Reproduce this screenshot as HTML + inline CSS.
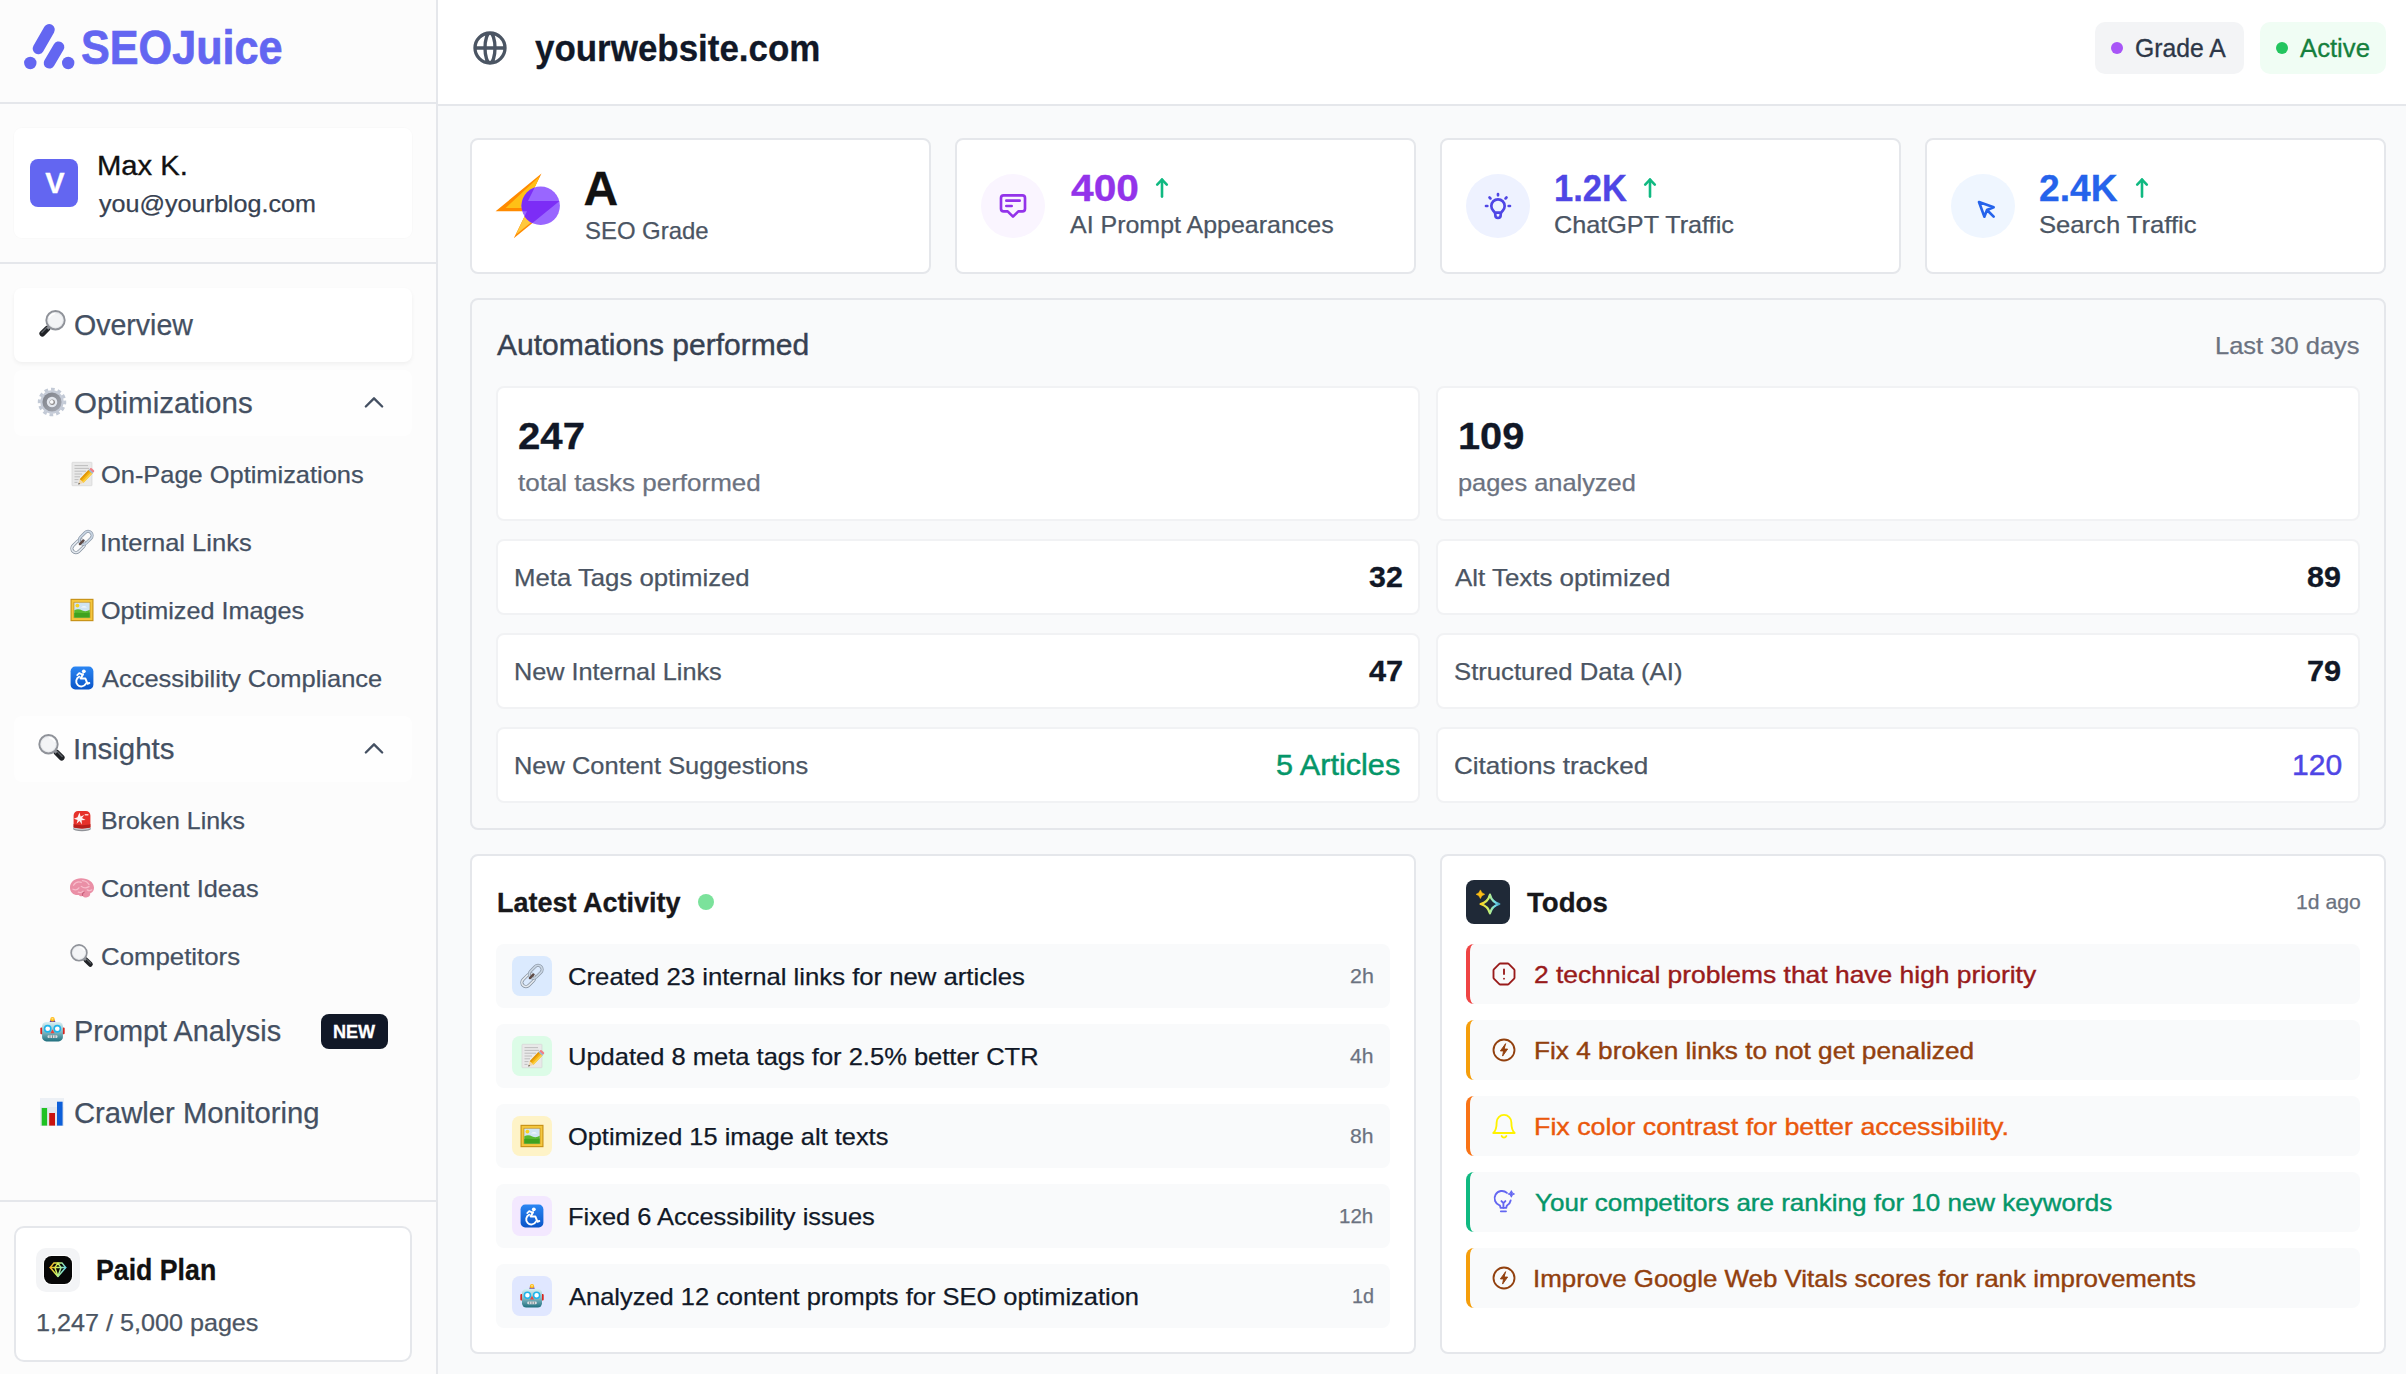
<!DOCTYPE html>
<html lang="en"><head><meta charset="utf-8"><title>SEOJuice Dashboard</title>
<style>
html,body{margin:0;padding:0}
body{width:2406px;height:1374px;overflow:hidden;position:relative;background:#f9fafb;font-family:"Liberation Sans",sans-serif}
a{text-decoration:none;color:inherit;display:block}
.t{position:absolute;white-space:nowrap;line-height:1;display:block;transform-origin:0 0}
svg{display:block;overflow:visible}
</style></head><body>
<aside class="sidebar" style="position:absolute;left:0px;top:0px;width:436px;height:1374px;background:#fcfcfc;border-right:2px solid #e5e7eb"><div class="brand" style="position:absolute;left:0px;top:0px;width:436px;height:102px;border-bottom:2px solid #e5e7eb"><svg style="position:absolute;left:20px;top:20px" width="60" height="54" viewBox="20 20 60 54" ><g stroke="#6366f1" stroke-width="11.2" stroke-linecap="round"><line x1="49.2" y1="29.6" x2="38.3" y2="48.6"/><line x1="58.7" y1="47" x2="49.3" y2="63"/></g><circle cx="30.3" cy="63" r="6.2" fill="#6366f1"/><circle cx="68.2" cy="63" r="6.2" fill="#6366f1"/></svg><span class="t logo" style="left:80.6px;top:24px;font-size:48px;color:#6366f1;transform:scaleX(0.8992);font-weight:700;-webkit-text-stroke:0.7px #6366f1;">SEOJuice</span></div><div class="account" style="position:absolute;left:0px;top:104px;width:436px;height:158px;border-bottom:2px solid #e5e7eb"><div class="user-card" style="position:absolute;left:14px;top:24px;width:398px;height:110px;background:#fff;border-radius:8px;box-shadow:0 0 0 1px rgba(0,0,0,.012)"><div class="avatar" style="position:absolute;left:16px;top:31px;width:48px;height:48px;background:#6366f1;border-radius:8px"><span class="t " style="left:15.3px;top:10px;font-size:29px;color:#fff;font-weight:700;-webkit-text-stroke:0.3px #fff;">V</span></div><span class="t " style="left:83.2px;top:24px;font-size:28px;color:#111111;transform:scaleX(1.0438);-webkit-text-stroke:0.35px #111111;">Max K.</span><span class="t " style="left:84.7px;top:64px;font-size:24px;color:#374151;transform:scaleX(1.0469);-webkit-text-stroke:0.25px #374151;">you@yourblog.com</span></div></div><nav class="nav" style="position:absolute;left:0px;top:264px;width:436px;height:936px;"><a class="nav-item active" style="position:absolute;left:14px;top:24px;width:398px;height:74px;background:#fff;border-radius:8px;box-shadow:0 2px 4px rgba(0,0,0,.05)"><svg style="position:absolute;left:24px;top:22px" width="28" height="28" viewBox="0 0 24 24" role="img" aria-label="🔎"><line x1="3.700" y1="20.300" x2="8.100" y2="15.900" stroke="#202226" stroke-width="5" stroke-linecap="round"/><line x1="3.300" y1="19.200" x2="7.100" y2="15.400" stroke="#5c6066" stroke-width="1.200" stroke-linecap="round"/><line x1="8" y1="16" x2="10.200" y2="13.800" stroke="#8a8d93" stroke-width="2.600"/><circle cx="15" cy="8.800" r="7.900" fill="#e6e8eb" stroke="#8f9299" stroke-width="1.600"/><circle cx="15" cy="8.800" r="6.100" fill="#f3f4f6"/><path d="M9.600 6.500a6 6 0 0 1 4.600-3.500" fill="none" stroke="#fff" stroke-width="1.200" stroke-linecap="round"/></svg><span class="t " style="left:59.5px;top:23px;font-size:29px;color:#445062;transform:scaleX(0.9842);-webkit-text-stroke:0.25px #445062;">Overview</span></a><div class="nav-group" style="position:absolute;left:14px;top:106px;width:398px;height:342px;"><div class="nav-item" style="position:absolute;left:0px;top:0px;width:398px;height:66px;background:#fefefe;border-radius:8px"><svg style="position:absolute;left:24px;top:18px" width="28" height="28" viewBox="0 0 24 24" role="img" aria-label="⚙️"><defs><linearGradient id="gg" x1="0" y1="0" x2="1" y2="1"><stop offset="0" stop-color="#7d8088"/><stop offset="1" stop-color="#a6aab3"/></linearGradient></defs><circle cx="12" cy="12" r="10.900" fill="none" stroke="#c3cad6" stroke-width="2.600" stroke-dasharray="3.100 2.607" transform="rotate(-6 12 12)"/><circle cx="12" cy="12" r="10" fill="#c6ccd8"/><circle cx="12" cy="12" r="8.200" fill="url(#gg)"/><circle cx="12" cy="12" r="4.500" fill="#e3e7ee"/><circle cx="12.200" cy="12.200" r="2.300" fill="#8d8a8a"/><circle cx="11.800" cy="11.900" r="1.600" fill="#fafbfc"/></svg><span class="t " style="left:59.5px;top:19px;font-size:29px;color:#445062;transform:scaleX(1.0168);-webkit-text-stroke:0.25px #445062;">Optimizations</span><svg style="position:absolute;left:346px;top:19px" width="28" height="28" viewBox="0 0 24 24" ><g fill="none" color="#445062" stroke="#445062" stroke-width="2" stroke-linecap="round" stroke-linejoin="round"><path d="M5 15l7-7 7 7"/></g></svg></div><ul class="sub-nav" style="position:absolute;left:0px;top:66px;width:398px;height:276px;margin:0;padding:0;list-style:none"><li class="sub-item" style="position:absolute;left:0px;top:4.5px;width:398px;height:68px;"><svg style="position:absolute;left:56px;top:21.5px" width="24" height="24" viewBox="0 0 24 24" role="img" aria-label="📝"><rect x="2" y="0.3" width="20" height="23.4" rx="0.6" fill="#e9e9e9" stroke="#d6d6d6" stroke-width="0.7"/><g stroke="#b3b3b3" stroke-width="0.8"><line x1="4.5" y1="3.6" x2="18" y2="3.6"/><line x1="4.5" y1="6.4" x2="19" y2="6.4"/><line x1="4.5" y1="9.2" x2="16" y2="9.2"/><line x1="4.5" y1="12" x2="12" y2="12"/><line x1="4.5" y1="14.8" x2="10" y2="14.8"/><line x1="4.5" y1="17.6" x2="8.5" y2="17.6"/><line x1="4.5" y1="20.4" x2="7.500" y2="20.4"/></g><g transform="translate(15.500 15) rotate(43.500)"><rect x="-2.600" y="-7.400" width="5.200" height="13" fill="#f6b512"/><rect x="-2.600" y="-7.400" width="1.700" height="13" fill="#e0960a"/><rect x="0.900" y="-7.400" width="1.700" height="13" fill="#fbd04a"/><rect x="-2.600" y="-10.600" width="5.200" height="2.600" rx="1.100" fill="#f08088"/><rect x="-2.600" y="-8.400" width="5.200" height="1.400" fill="#9db7d3"/><path d="M-2.600 5.600h5.200l-2.600 4.800z" fill="#f1d6ab"/><path d="M-.9 8.800h1.800l-.9 1.700z" fill="#3a3a3a"/></g></svg><span class="t " style="left:86.7px;top:22.5px;font-size:24px;color:#445062;transform:scaleX(1.0586);-webkit-text-stroke:0.25px #445062;">On-Page Optimizations</span></li><li class="sub-item" style="position:absolute;left:0px;top:72.5px;width:398px;height:68px;"><svg style="position:absolute;left:56px;top:21.5px" width="24" height="24" viewBox="0 0 24 24" role="img" aria-label="🔗"><g fill="none" stroke-linecap="round"><rect x="0.900" y="12.100" width="14.800" height="8.200" rx="4.100" transform="rotate(-45 8.300 16.200)" stroke="#7f8b99" stroke-width="3"/><rect x="0.900" y="12.100" width="14.800" height="8.200" rx="4.100" transform="rotate(-45 8.300 16.200)" stroke="#e4e9ef" stroke-width="1.700"/><rect x="8.300" y="3.700" width="14.800" height="8.200" rx="4.100" transform="rotate(-45 15.700 7.800)" stroke="#8a96a5" stroke-width="3"/><rect x="8.300" y="3.700" width="14.800" height="8.200" rx="4.100" transform="rotate(-45 15.700 7.800)" stroke="#c9d6e4" stroke-width="1.700"/><path d="M9.900 14.100l3.400-3.400" stroke="#5f4b47" stroke-width="2.400"/></g></svg><span class="t " style="left:85.7px;top:22.5px;font-size:24px;color:#445062;transform:scaleX(1.0622);-webkit-text-stroke:0.25px #445062;">Internal Links</span></li><li class="sub-item" style="position:absolute;left:0px;top:140.5px;width:398px;height:68px;"><svg style="position:absolute;left:56px;top:21.5px" width="24" height="24" viewBox="0 0 24 24" role="img" aria-label="🖼️"><rect x="0.5" y="0.8" width="23" height="22.4" fill="#c58f16"/><rect x="1.6" y="1.9" width="20.8" height="20.2" fill="#f4c73e"/><rect x="3.6" y="3.9" width="16.8" height="16.2" fill="#c58f16"/><rect x="4.3" y="4.6" width="15.4" height="14.8" fill="#cfe4f4"/><path d="M4.3 12.2c3-1.6 5.5-1 8 .2s5 1 7.400-.6v7.600h-15.400z" fill="#58b82f"/><path d="M4.3 15c4-1 9 1 15.400-.5v4.900h-15.400z" fill="#3fa21f"/><circle cx="7.400" cy="7.600" r="1.900" fill="#f7d21e"/><path d="M11 9.500c1.500-1.800 4.500-1.800 6 0z" fill="#fff" opacity=".8"/></svg><span class="t " style="left:86.8px;top:22.5px;font-size:24px;color:#445062;transform:scaleX(1.0499);-webkit-text-stroke:0.25px #445062;">Optimized Images</span></li><li class="sub-item" style="position:absolute;left:0px;top:208.5px;width:398px;height:68px;"><svg style="position:absolute;left:56px;top:21.5px" width="24" height="24" viewBox="0 0 24 24" role="img" aria-label="♿"><defs><linearGradient id="wcg" x1="0" y1="0" x2="0" y2="1"><stop offset="0" stop-color="#2b86f3"/><stop offset="1" stop-color="#0b55c8"/></linearGradient></defs><rect x="0.6" y="0.6" width="22.8" height="22.8" rx="4.6" fill="url(#wcg)"/><circle cx="13.800" cy="5.300" r="1.900" fill="#fff"/><path d="M13 8.200l-2.400 4.300h4.800l2 5.200 1.900-.7" fill="none" stroke="#fff" stroke-width="2" stroke-linecap="round" stroke-linejoin="round"/><path d="M9.300 10.700a5.100 5.100 0 1 0 6.600 6.900" fill="none" stroke="#fff" stroke-width="1.900" stroke-linecap="round"/><path d="M12.600 8.600l-3.400-1.500-2 2.100" fill="none" stroke="#fff" stroke-width="1.700" stroke-linecap="round" stroke-linejoin="round"/></svg><span class="t " style="left:87.8px;top:22.5px;font-size:24px;color:#445062;transform:scaleX(1.0612);-webkit-text-stroke:0.25px #445062;">Accessibility Compliance</span></li></ul></div><div class="nav-group" style="position:absolute;left:14px;top:452px;width:398px;height:274px;"><div class="nav-item" style="position:absolute;left:0px;top:0px;width:398px;height:66px;background:#fefefe;border-radius:8px"><svg style="position:absolute;left:24px;top:18px" width="28" height="28" viewBox="0 0 24 24" role="img" aria-label="🔍"><g transform="translate(24,0) scale(-1,1)"><line x1="3.700" y1="20.300" x2="8.100" y2="15.900" stroke="#202226" stroke-width="5" stroke-linecap="round"/><line x1="3.300" y1="19.200" x2="7.100" y2="15.400" stroke="#5c6066" stroke-width="1.200" stroke-linecap="round"/><line x1="8" y1="16" x2="10.200" y2="13.800" stroke="#8a8d93" stroke-width="2.600"/><circle cx="15" cy="8.800" r="7.900" fill="#e6e8eb" stroke="#8f9299" stroke-width="1.600"/><circle cx="15" cy="8.800" r="6.100" fill="#f3f4f6"/><path d="M9.600 6.500a6 6 0 0 1 4.600-3.500" fill="none" stroke="#fff" stroke-width="1.200" stroke-linecap="round"/></g></svg><span class="t " style="left:58.9px;top:19px;font-size:29px;color:#445062;transform:scaleX(1.0160);-webkit-text-stroke:0.25px #445062;">Insights</span><svg style="position:absolute;left:346px;top:19px" width="28" height="28" viewBox="0 0 24 24" ><g fill="none" color="#445062" stroke="#445062" stroke-width="2" stroke-linecap="round" stroke-linejoin="round"><path d="M5 15l7-7 7 7"/></g></svg></div><ul class="sub-nav" style="position:absolute;left:0px;top:66px;width:398px;height:208px;margin:0;padding:0;list-style:none"><li class="sub-item" style="position:absolute;left:0px;top:4.5px;width:398px;height:68px;"><svg style="position:absolute;left:56px;top:21.5px" width="24" height="24" viewBox="0 0 24 24" role="img" aria-label="🚨"><ellipse cx="12" cy="20.700" rx="9" ry="2.500" fill="#8f9297"/><ellipse cx="12" cy="19.600" rx="9" ry="2.400" fill="#c9ccd1"/><path d="M3.600 19.300V7.500a4.500 4.500 0 0 1 4.500-4.500h7.800a4.500 4.500 0 0 1 4.500 4.500v11.800c-2 1.500-14.800 1.500-16.800 0z" fill="#e6322b"/><path d="M3.600 16v3.300c2 1.500 14.800 1.500 16.800 0V16c-2 1.500-14.800 1.500-16.800 0z" fill="#b81f1b"/><path d="M9.500 4.500l1.100 3.900 3.700-1.500-2.300 3.200 3.600 1.900-4 .3.400 4.100-2.500-3.300-2.900 2.700 1-3.900-3.800-1.100 3.700-1.500z" fill="#fff" opacity=".95"/><rect x="14.600" y="6" width="4" height="1.500" rx=".7" fill="#ffd0cc"/></svg><span class="t " style="left:86.8px;top:22.5px;font-size:24px;color:#445062;transform:scaleX(1.0382);-webkit-text-stroke:0.25px #445062;">Broken Links</span></li><li class="sub-item" style="position:absolute;left:0px;top:72.5px;width:398px;height:68px;"><svg style="position:absolute;left:56px;top:21.5px" width="24" height="24" viewBox="0 0 24 24" role="img" aria-label="🧠"><g transform="translate(12 12) scale(1.19 1.16) translate(-12.1 -11.9)"><path d="M2 11.500c0-4.700 4-8 9.300-8 6 0 10.900 3.400 10.900 8.200 0 2.400-1.300 4.200-3.200 4.800.2 2-1.200 3.600-3.400 3.600-1.300 0-2.300-.5-2.900-1.400-1 .5-2.600.300-3.300-.8-3.900.6-7.400-1.900-7.400-6.400z" fill="#ea8fa6"/><path d="M12.700 18.700c-.5-1.500.2-2.800 1.600-3.300" fill="none" stroke="#c9607c" stroke-width="1"/><g fill="none" stroke="#f7bccb" stroke-width="1.100" stroke-linecap="round"><path d="M5 9.500c1.500-2.500 4-3.300 6.500-2.500"/><path d="M12.500 5.500c2.500.2 4.500 1.500 5.500 3.500"/><path d="M4.500 13c2 .8 4 .3 5-1.200"/><path d="M11.500 10.500c1.800 1.500 4.500 1.500 6.500.2"/><path d="M9 15.500c1.500.6 3 .2 4-.9"/><path d="M16.500 13.500c1.200.8 2.700.8 3.800 0"/></g></g></svg><span class="t " style="left:86.7px;top:22.5px;font-size:24px;color:#445062;transform:scaleX(1.0543);-webkit-text-stroke:0.25px #445062;">Content Ideas</span></li><li class="sub-item" style="position:absolute;left:0px;top:140.5px;width:398px;height:68px;"><svg style="position:absolute;left:56px;top:21.5px" width="24" height="24" viewBox="0 0 24 24" role="img" aria-label="🔍"><g transform="translate(24,0) scale(-1,1)"><line x1="3.700" y1="20.300" x2="8.100" y2="15.900" stroke="#202226" stroke-width="5" stroke-linecap="round"/><line x1="3.300" y1="19.200" x2="7.100" y2="15.400" stroke="#5c6066" stroke-width="1.200" stroke-linecap="round"/><line x1="8" y1="16" x2="10.200" y2="13.800" stroke="#8a8d93" stroke-width="2.600"/><circle cx="15" cy="8.800" r="7.900" fill="#e6e8eb" stroke="#8f9299" stroke-width="1.600"/><circle cx="15" cy="8.800" r="6.100" fill="#f3f4f6"/><path d="M9.600 6.500a6 6 0 0 1 4.600-3.500" fill="none" stroke="#fff" stroke-width="1.200" stroke-linecap="round"/></g></svg><span class="t " style="left:86.7px;top:22.5px;font-size:24px;color:#445062;transform:scaleX(1.0750);-webkit-text-stroke:0.25px #445062;">Competitors</span></li></ul></div><a class="nav-item" style="position:absolute;left:14px;top:734px;width:398px;height:66px;"><svg style="position:absolute;left:25.5px;top:18.5px" width="25" height="25" viewBox="0 0 24 24" role="img" aria-label="🤖"><defs><linearGradient id="rbg" x1="0" y1="0" x2="0" y2="1"><stop offset="0" stop-color="#d9f0f4"/><stop offset=".5" stop-color="#86bcc6"/><stop offset="1" stop-color="#1f6f7e"/></linearGradient></defs><rect x="0.300" y="10" width="2.600" height="6.500" rx="1" fill="#d8261f"/><rect x="21.100" y="10" width="2.600" height="6.500" rx="1" fill="#d8261f"/><path d="M9 5.400h6l-.8-2.200h-4.400z" fill="#6b4aa0"/><circle cx="12" cy="2.200" r="2.100" fill="#ffb813"/><circle cx="12" cy="1.700" r="1" fill="#ffe27a"/><rect x="2" y="4.800" width="20" height="18.600" rx="4.200" fill="url(#rbg)"/><circle cx="7.400" cy="11.300" r="3" fill="#fff" stroke="#1fb4ea" stroke-width="1.500"/><circle cx="16.600" cy="11.300" r="3" fill="#fff" stroke="#1fb4ea" stroke-width="1.500"/><path d="M12 11.800l2 3.800h-4z" fill="#e8463f"/><rect x="7.200" y="17.600" width="9.600" height="2.600" rx="1.200" fill="#d9dde0"/><g stroke="#6d7f86" stroke-width=".8"><line x1="9.600" y1="17.600" x2="9.600" y2="20.200"/><line x1="12" y1="17.600" x2="12" y2="20.200"/><line x1="14.400" y1="17.600" x2="14.400" y2="20.200"/></g></svg><span class="t " style="left:59.5px;top:19px;font-size:29px;color:#445062;transform:scaleX(0.9961);-webkit-text-stroke:0.25px #445062;">Prompt Analysis</span><span class="badge" style="position:absolute;left:307px;top:16px;width:67px;height:35px;background:#111827;border-radius:8px"><span class="t " style="left:11.6px;top:9px;font-size:18px;color:#fff;transform:scaleX(1.0048);font-weight:700;-webkit-text-stroke:0.3px #fff;">NEW</span></span></a><a class="nav-item" style="position:absolute;left:14px;top:816px;width:398px;height:66px;"><svg style="position:absolute;left:26px;top:18px" width="24" height="28" viewBox="0 0 24 28" role="img" aria-label="📊"><rect x="0.200" y="0" width="23.600" height="28" fill="#e2e7ee"/><rect x="0.200" y="0" width="23.600" height="9" fill="#ecf0f5"/><rect x="1.700" y="10" width="5.400" height="17.600" fill="#1fc224"/><rect x="9.200" y="15" width="5.800" height="12.600" fill="#c9120e"/><rect x="17" y="3.700" width="5.600" height="23.900" fill="#0d5fd9"/></svg><span class="t " style="left:59.7px;top:19px;font-size:29px;color:#445062;transform:scaleX(1.0086);-webkit-text-stroke:0.25px #445062;">Crawler Monitoring</span></a></nav><div class="plan" style="position:absolute;left:0px;top:1200px;width:436px;height:174px;border-top:2px solid #e5e7eb"><div class="plan-card" style="position:absolute;left:14px;top:24px;width:394px;height:132px;background:#fff;border:2px solid #e5e7eb;border-radius:10px"><div class="plan-icon" style="position:absolute;left:20px;top:20px;width:44px;height:44px;background:#f3f4f6;border-radius:10px"><div style="position:absolute;left:7.3px;top:7.3px;width:29.4px;height:29.4px;background:#fff;border-radius:8.2px"></div><div style="position:absolute;left:8px;top:8px;width:28px;height:28px;background:#070707;border-radius:7.5px"></div><svg style="position:absolute;left:8px;top:8px" width="28" height="28" viewBox="44 1256 28 28" ><defs><linearGradient id="dg" gradientUnits="userSpaceOnUse" x1="49.5" y1="1266" x2="66.5" y2="1270"><stop offset="0" stop-color="#ffab1a"/><stop offset=".45" stop-color="#d2f25a"/><stop offset=".75" stop-color="#8fe6c0"/><stop offset="1" stop-color="#56c8f2"/></linearGradient></defs><g fill="none" stroke="url(#dg)" stroke-width="1.5" stroke-linejoin="round" stroke-linecap="round"><path d="M53.9 1262.9h8.100l3.700 4.700-7.750 8.900-7.750-8.900z"/><path d="M50.200 1267.600h15.500"/><path d="M57.950 1263.100l-3.100 4.500 3.100 8.700 3.100-8.700z"/></g></svg></div><span class="t " style="left:80.4px;top:28px;font-size:29px;color:#111111;transform:scaleX(0.9208);font-weight:700;-webkit-text-stroke:0.3px #111111;">Paid Plan</span><span class="t " style="left:19.5px;top:83px;font-size:24px;color:#4b5563;transform:scaleX(1.0484);-webkit-text-stroke:0.25px #4b5563;">1,247 / 5,000 pages</span></div></div></aside><header class="topbar" style="position:absolute;left:438px;top:0px;width:1968px;height:104px;background:#fff;border-bottom:2px solid #e5e7eb"><div class="site" style="position:absolute;left:32px;top:22px;width:360px;height:52px;"><svg style="position:absolute;left:0px;top:6px" width="40" height="40" viewBox="0 0 24 24" ><g fill="none" color="#4b5563" stroke="#4b5563" stroke-width="2" stroke-linecap="round" stroke-linejoin="round"><path d="M21 12a9 9 0 01-9 9m9-9a9 9 0 00-9-9m9 9H3m9 9a9 9 0 01-9-9m9 9c1.657 0 3-4.030 3-9s-1.343-9-3-9m0 18c-1.657 0-3-4.030-3-9s1.343-9 3-9m-9 9a9 9 0 019-9"/></g></svg><span class="t " style="left:65.0px;top:8px;font-size:37px;color:#111827;transform:scaleX(0.9442);font-weight:700;-webkit-text-stroke:0.3px #111827;">yourwebsite.com</span></div><div class="status" style="position:absolute;left:1657px;top:22px;width:291px;height:52px;"><span class="pill" style="position:absolute;left:0px;top:0px;width:149px;height:52px;background:#f3f4f6;border-radius:10px"><i style="position:absolute;left:16px;top:20px;width:12px;height:12px;background:#a855f7;border-radius:50%"></i><span class="t " style="left:39.7px;top:14px;font-size:25px;color:#2d3748;transform:scaleX(0.9889);-webkit-text-stroke:0.3px #2d3748;">Grade A</span></span><span class="pill" style="position:absolute;left:165px;top:0px;width:126px;height:52px;background:#f0fdf4;border-radius:10px"><i style="position:absolute;left:16px;top:20px;width:12px;height:12px;background:#22c55e;border-radius:50%"></i><span class="t " style="left:40.3px;top:14px;font-size:25px;color:#15803d;transform:scaleX(1.0272);-webkit-text-stroke:0.3px #15803d;">Active</span></span></div></header><main class="content" style="position:absolute;left:438px;top:106px;width:1968px;height:1268px;background:#f9fafb"><section class="stats" style="position:absolute;left:32px;top:32px;width:1916px;height:136px;"><article class="stat" style="position:absolute;left:0px;top:0px;width:461px;height:136px;background:#fff;border:2px solid #e5e7eb;border-radius:8px;box-sizing:border-box;"><svg style="position:absolute;left:22px;top:30px" width="70" height="70" viewBox="494 170 70 70" ><defs><clipPath id="cc"><circle cx="540.7" cy="205.8" r="19.2"/></clipPath></defs><polygon points="541.5,173.6 495.6,211.2 527,211.2 513.8,238.2 559.5,201 528,201" fill="#ff8a00"/><polygon points="539.5,176.5 505.6,208 527,208 529.5,199.5" fill="#ffc016"/><polygon points="524.5,216.5 516,234.5 534,220" fill="#ffc83c"/><circle cx="540.7" cy="205.8" r="19.2" fill="#9966ff"/><polygon clip-path="url(#cc)" points="541.5,173.6 495.6,211.2 527,211.2 513.8,238.2 559.5,201 528,201" fill="#7c2df6"/></svg><span class="t " style="left:111.6px;top:25px;font-size:48px;color:#111111;font-weight:700;-webkit-text-stroke:0.3px #111111;">A</span><span class="t " style="left:112.5px;top:79px;font-size:24px;color:#4b5563;transform:scaleX(0.9959);-webkit-text-stroke:0.25px #4b5563;">SEO Grade</span></article><article class="stat" style="position:absolute;left:485px;top:0px;width:461px;height:136px;background:#fff;border:2px solid #e5e7eb;border-radius:8px;box-sizing:border-box;"><div class="stat-icon" style="position:absolute;left:24px;top:34px;width:64px;height:64px;background:#faf5ff;border-radius:50%"><svg style="position:absolute;left:16px;top:15.6px" width="32" height="32" viewBox="0 0 24 24" ><g fill="none" color="#9333ea" stroke="#9333ea" stroke-width="2" stroke-linecap="round" stroke-linejoin="round"><path d="M7 8h10M7 12h4m1 8l-4-4H5a2 2 0 01-2-2V6a2 2 0 012-2h14a2 2 0 012 2v8a2 2 0 01-2 2h-3l-4 4z"/></g></svg></div><span class="t " style="left:113.5px;top:31px;font-size:36px;color:#9333ea;transform:scaleX(1.1314);font-weight:700;-webkit-text-stroke:0.3px #9333ea;">400</span><svg style="position:absolute;left:197px;top:36px" width="16" height="24" viewBox="0 0 16 24" ><g fill="none" stroke="#10b981" stroke-width="2.6" stroke-linecap="round" stroke-linejoin="round"><path d="M8 3.6v17"/><path d="M3.2 8.6L8 3.600l4.800 5"/></g></svg><span class="t " style="left:112.8px;top:73px;font-size:24px;color:#4b5563;transform:scaleX(1.0400);-webkit-text-stroke:0.25px #4b5563;">AI Prompt Appearances</span></article><article class="stat" style="position:absolute;left:970px;top:0px;width:461px;height:136px;background:#fff;border:2px solid #e5e7eb;border-radius:8px;box-sizing:border-box;"><div class="stat-icon" style="position:absolute;left:24px;top:34px;width:64px;height:64px;background:#eef2ff;border-radius:50%"><svg style="position:absolute;left:16px;top:15.6px" width="32" height="32" viewBox="0 0 24 24" ><g fill="none" color="#4f46e5" stroke="#4f46e5" stroke-width="2" stroke-linecap="round" stroke-linejoin="round"><path d="M9.663 17h4.673M12 3v1m6.364 1.636l-.707.707M21 12h-1M4 12H3m3.343-5.657l-.707-.707m2.828 9.900a5 5 0 117.072 0l-.548.547A3.374 3.374 0 0014 18.469V19a2 2 0 11-4 0v-.531c0-.895-.356-1.754-.988-2.386l-.548-.547z"/></g></svg></div><span class="t " style="left:111.6px;top:31px;font-size:36px;color:#4f46e5;transform:scaleX(0.9589);font-weight:700;-webkit-text-stroke:0.3px #4f46e5;">1.2K</span><svg style="position:absolute;left:200.4px;top:36px" width="16" height="24" viewBox="0 0 16 24" ><g fill="none" stroke="#10b981" stroke-width="2.6" stroke-linecap="round" stroke-linejoin="round"><path d="M8 3.6v17"/><path d="M3.2 8.6L8 3.600l4.800 5"/></g></svg><span class="t " style="left:111.9px;top:73px;font-size:24px;color:#4b5563;transform:scaleX(1.0506);-webkit-text-stroke:0.25px #4b5563;">ChatGPT Traffic</span></article><article class="stat" style="position:absolute;left:1455px;top:0px;width:461px;height:136px;background:#fff;border:2px solid #e5e7eb;border-radius:8px;box-sizing:border-box;"><div class="stat-icon" style="position:absolute;left:24px;top:34px;width:64px;height:64px;background:#eff6ff;border-radius:50%"><svg style="position:absolute;left:16px;top:15.6px" width="32" height="32" viewBox="0 0 24 24" ><g fill="none" color="#2563eb" stroke="#2563eb" stroke-width="2" stroke-linecap="round" stroke-linejoin="round"><path d="M15 15l-2 5L9 9l11 4-5 2zm0 0l5 5"/></g></svg></div><span class="t " style="left:112.0px;top:31px;font-size:36px;color:#2563eb;transform:scaleX(1.0327);font-weight:700;-webkit-text-stroke:0.3px #2563eb;">2.4K</span><svg style="position:absolute;left:206.7px;top:36px" width="16" height="24" viewBox="0 0 16 24" ><g fill="none" stroke="#10b981" stroke-width="2.6" stroke-linecap="round" stroke-linejoin="round"><path d="M8 3.6v17"/><path d="M3.2 8.6L8 3.600l4.800 5"/></g></svg><span class="t " style="left:111.9px;top:73px;font-size:24px;color:#4b5563;transform:scaleX(1.0676);-webkit-text-stroke:0.25px #4b5563;">Search Traffic</span></article></section><section class="automations" style="position:absolute;left:32px;top:192px;width:1916px;height:532px;background:#f9fafb;border:2px solid #e5e7eb;border-radius:8px;box-sizing:border-box"><span class="t " style="left:25.0px;top:31px;font-size:29px;color:#374151;transform:scaleX(1.0356);-webkit-text-stroke:0.4px #374151;">Automations performed</span><span class="t " style="left:1742.9px;top:34px;font-size:24px;color:#6b7280;transform:scaleX(1.0623);-webkit-text-stroke:0.25px #6b7280;">Last 30 days</span><div class="metric-col" style="position:absolute;left:24px;top:86px;width:924px;height:417px;"><div class="metric-total" style="position:absolute;left:0px;top:0px;width:924px;height:135px;background:#fff;border:2px solid #f1f2f4;border-radius:8px;box-sizing:border-box;"><span class="t " style="left:20.3px;top:31px;font-size:36px;color:#111827;transform:scaleX(1.1164);font-weight:700;-webkit-text-stroke:0.3px #111827;">247</span><span class="t " style="left:20.3px;top:83px;font-size:24px;color:#6b7280;transform:scaleX(1.0833);-webkit-text-stroke:0.25px #6b7280;">total tasks performed</span></div><div class="metric-row" style="position:absolute;left:0px;top:153px;width:924px;height:76px;background:#fff;border:2px solid #f1f2f4;border-radius:8px;box-sizing:border-box;"><span class="t " style="left:16.2px;top:25px;font-size:24px;color:#4b5563;transform:scaleX(1.0728);-webkit-text-stroke:0.25px #4b5563;">Meta Tags optimized</span><span class="t " style="left:871.1px;top:22px;font-size:29px;color:#111827;transform:scaleX(1.0473);font-weight:700;-webkit-text-stroke:0.3px #111827;">32</span></div><div class="metric-row" style="position:absolute;left:0px;top:247px;width:924px;height:76px;background:#fff;border:2px solid #f1f2f4;border-radius:8px;box-sizing:border-box;"><span class="t " style="left:16.2px;top:25px;font-size:24px;color:#4b5563;transform:scaleX(1.0523);-webkit-text-stroke:0.25px #4b5563;">New Internal Links</span><span class="t " style="left:870.7px;top:22px;font-size:29px;color:#111827;transform:scaleX(1.0601);font-weight:700;-webkit-text-stroke:0.3px #111827;">47</span></div><div class="metric-row" style="position:absolute;left:0px;top:341px;width:924px;height:76px;background:#fff;border:2px solid #f1f2f4;border-radius:8px;box-sizing:border-box;"><span class="t " style="left:16.2px;top:25px;font-size:24px;color:#4b5563;transform:scaleX(1.0600);-webkit-text-stroke:0.25px #4b5563;">New Content Suggestions</span><span class="t " style="left:778.3px;top:22px;font-size:29px;color:#059669;transform:scaleX(1.0556);-webkit-text-stroke:0.45px #059669;">5 Articles</span></div></div><div class="metric-col" style="position:absolute;left:964px;top:86px;width:924px;height:417px;"><div class="metric-total" style="position:absolute;left:0px;top:0px;width:924px;height:135px;background:#fff;border:2px solid #f1f2f4;border-radius:8px;box-sizing:border-box;"><span class="t " style="left:19.8px;top:31px;font-size:36px;color:#111827;transform:scaleX(1.1044);font-weight:700;-webkit-text-stroke:0.3px #111827;">109</span><span class="t " style="left:19.5px;top:83px;font-size:24px;color:#6b7280;transform:scaleX(1.0574);-webkit-text-stroke:0.25px #6b7280;">pages analyzed</span></div><div class="metric-row" style="position:absolute;left:0px;top:153px;width:924px;height:76px;background:#fff;border:2px solid #f1f2f4;border-radius:8px;box-sizing:border-box;"><span class="t " style="left:17.3px;top:25px;font-size:24px;color:#4b5563;transform:scaleX(1.0789);-webkit-text-stroke:0.25px #4b5563;">Alt Texts optimized</span><span class="t " style="left:869.4px;top:22px;font-size:29px;color:#111827;transform:scaleX(1.0520);font-weight:700;-webkit-text-stroke:0.3px #111827;">89</span></div><div class="metric-row" style="position:absolute;left:0px;top:247px;width:924px;height:76px;background:#fff;border:2px solid #f1f2f4;border-radius:8px;box-sizing:border-box;"><span class="t " style="left:16.2px;top:25px;font-size:24px;color:#4b5563;transform:scaleX(1.0704);-webkit-text-stroke:0.25px #4b5563;">Structured Data (AI)</span><span class="t " style="left:869.1px;top:22px;font-size:29px;color:#111827;transform:scaleX(1.0601);font-weight:700;-webkit-text-stroke:0.3px #111827;">79</span></div><div class="metric-row" style="position:absolute;left:0px;top:341px;width:924px;height:76px;background:#fff;border:2px solid #f1f2f4;border-radius:8px;box-sizing:border-box;"><span class="t " style="left:16.2px;top:25px;font-size:24px;color:#4b5563;transform:scaleX(1.0862);-webkit-text-stroke:0.25px #4b5563;">Citations tracked</span><span class="t " style="left:854.2px;top:22px;font-size:29px;color:#4f46e5;transform:scaleX(1.0363);-webkit-text-stroke:0.45px #4f46e5;">120</span></div></div></section><section class="activity" style="position:absolute;left:32px;top:748px;width:946px;height:500px;background:#fff;border:2px solid #e5e7eb;border-radius:8px;box-sizing:border-box;"><span class="t " style="left:24.5px;top:33px;font-size:28px;color:#18181b;transform:scaleX(0.9643);font-weight:700;-webkit-text-stroke:0.3px #18181b;">Latest Activity</span><i style="position:absolute;left:226px;top:38px;width:16px;height:16px;background:#7be29b;border-radius:50%"></i><ul class="activity-list" style="position:absolute;left:24px;top:88px;width:894px;height:384px;margin:0;padding:0;list-style:none"><li class="activity-item" style="position:absolute;left:0px;top:0px;width:894px;height:64px;background:#f9fafb;border-radius:8px"><div class="activity-icon" style="position:absolute;left:16px;top:12px;width:40px;height:40px;background:#dbeafe;border-radius:8px"><svg style="position:absolute;left:8px;top:8px" width="24" height="24" viewBox="0 0 24 24" role="img" aria-label="🔗"><g fill="none" stroke-linecap="round"><rect x="0.900" y="12.100" width="14.800" height="8.200" rx="4.100" transform="rotate(-45 8.300 16.200)" stroke="#7f8b99" stroke-width="3"/><rect x="0.900" y="12.100" width="14.800" height="8.200" rx="4.100" transform="rotate(-45 8.300 16.200)" stroke="#e4e9ef" stroke-width="1.700"/><rect x="8.300" y="3.700" width="14.800" height="8.200" rx="4.100" transform="rotate(-45 15.700 7.800)" stroke="#8a96a5" stroke-width="3"/><rect x="8.300" y="3.700" width="14.800" height="8.200" rx="4.100" transform="rotate(-45 15.700 7.800)" stroke="#c9d6e4" stroke-width="1.700"/><path d="M9.900 14.100l3.400-3.400" stroke="#5f4b47" stroke-width="2.400"/></g></svg></div><span class="t " style="left:71.7px;top:21px;font-size:24px;color:#111827;transform:scaleX(1.0703);-webkit-text-stroke:0.25px #111827;">Created 23 internal links for new articles</span><span class="t " style="left:853.9px;top:21px;font-size:21px;color:#6b7280;transform:scaleX(1.0194);-webkit-text-stroke:0.25px #6b7280;">2h</span></li><li class="activity-item" style="position:absolute;left:0px;top:80px;width:894px;height:64px;background:#f9fafb;border-radius:8px"><div class="activity-icon" style="position:absolute;left:16px;top:12px;width:40px;height:40px;background:#dcfce7;border-radius:8px"><svg style="position:absolute;left:8px;top:8px" width="24" height="24" viewBox="0 0 24 24" role="img" aria-label="📝"><rect x="2" y="0.3" width="20" height="23.4" rx="0.6" fill="#e9e9e9" stroke="#d6d6d6" stroke-width="0.7"/><g stroke="#b3b3b3" stroke-width="0.8"><line x1="4.5" y1="3.6" x2="18" y2="3.6"/><line x1="4.5" y1="6.4" x2="19" y2="6.4"/><line x1="4.5" y1="9.2" x2="16" y2="9.2"/><line x1="4.5" y1="12" x2="12" y2="12"/><line x1="4.5" y1="14.8" x2="10" y2="14.8"/><line x1="4.5" y1="17.6" x2="8.5" y2="17.6"/><line x1="4.5" y1="20.4" x2="7.500" y2="20.4"/></g><g transform="translate(15.500 15) rotate(43.500)"><rect x="-2.600" y="-7.400" width="5.200" height="13" fill="#f6b512"/><rect x="-2.600" y="-7.400" width="1.700" height="13" fill="#e0960a"/><rect x="0.900" y="-7.400" width="1.700" height="13" fill="#fbd04a"/><rect x="-2.600" y="-10.600" width="5.200" height="2.600" rx="1.100" fill="#f08088"/><rect x="-2.600" y="-8.400" width="5.200" height="1.400" fill="#9db7d3"/><path d="M-2.600 5.600h5.200l-2.600 4.800z" fill="#f1d6ab"/><path d="M-.9 8.800h1.800l-.9 1.700z" fill="#3a3a3a"/></g></svg></div><span class="t " style="left:71.7px;top:21px;font-size:24px;color:#111827;transform:scaleX(1.0626);-webkit-text-stroke:0.25px #111827;">Updated 8 meta tags for 2.5% better CTR</span><span class="t " style="left:854.2px;top:21px;font-size:21px;color:#6b7280;transform:scaleX(1.0053);-webkit-text-stroke:0.25px #6b7280;">4h</span></li><li class="activity-item" style="position:absolute;left:0px;top:160px;width:894px;height:64px;background:#f9fafb;border-radius:8px"><div class="activity-icon" style="position:absolute;left:16px;top:12px;width:40px;height:40px;background:#fef3c7;border-radius:8px"><svg style="position:absolute;left:8px;top:8px" width="24" height="24" viewBox="0 0 24 24" role="img" aria-label="🖼️"><rect x="0.5" y="0.8" width="23" height="22.4" fill="#c58f16"/><rect x="1.6" y="1.9" width="20.8" height="20.2" fill="#f4c73e"/><rect x="3.6" y="3.9" width="16.8" height="16.2" fill="#c58f16"/><rect x="4.3" y="4.6" width="15.4" height="14.8" fill="#cfe4f4"/><path d="M4.3 12.2c3-1.6 5.5-1 8 .2s5 1 7.400-.6v7.600h-15.400z" fill="#58b82f"/><path d="M4.3 15c4-1 9 1 15.400-.5v4.900h-15.400z" fill="#3fa21f"/><circle cx="7.400" cy="7.600" r="1.900" fill="#f7d21e"/><path d="M11 9.500c1.500-1.800 4.500-1.800 6 0z" fill="#fff" opacity=".8"/></svg></div><span class="t " style="left:71.7px;top:21px;font-size:24px;color:#111827;transform:scaleX(1.0580);-webkit-text-stroke:0.25px #111827;">Optimized 15 image alt texts</span><span class="t " style="left:854.2px;top:21px;font-size:21px;color:#6b7280;transform:scaleX(1.0053);-webkit-text-stroke:0.25px #6b7280;">8h</span></li><li class="activity-item" style="position:absolute;left:0px;top:240px;width:894px;height:64px;background:#f9fafb;border-radius:8px"><div class="activity-icon" style="position:absolute;left:16px;top:12px;width:40px;height:40px;background:#f3e8ff;border-radius:8px"><svg style="position:absolute;left:8px;top:8px" width="24" height="24" viewBox="0 0 24 24" role="img" aria-label="♿"><defs><linearGradient id="wcg" x1="0" y1="0" x2="0" y2="1"><stop offset="0" stop-color="#2b86f3"/><stop offset="1" stop-color="#0b55c8"/></linearGradient></defs><rect x="0.6" y="0.6" width="22.8" height="22.8" rx="4.6" fill="url(#wcg)"/><circle cx="13.800" cy="5.300" r="1.900" fill="#fff"/><path d="M13 8.200l-2.400 4.300h4.800l2 5.200 1.900-.7" fill="none" stroke="#fff" stroke-width="2" stroke-linecap="round" stroke-linejoin="round"/><path d="M9.300 10.700a5.100 5.100 0 1 0 6.600 6.900" fill="none" stroke="#fff" stroke-width="1.900" stroke-linecap="round"/><path d="M12.600 8.600l-3.400-1.500-2 2.100" fill="none" stroke="#fff" stroke-width="1.700" stroke-linecap="round" stroke-linejoin="round"/></svg></div><span class="t " style="left:71.7px;top:21px;font-size:24px;color:#111827;transform:scaleX(1.0598);-webkit-text-stroke:0.25px #111827;">Fixed 6 Accessibility issues</span><span class="t " style="left:843.4px;top:21px;font-size:21px;color:#6b7280;transform:scaleX(0.9773);-webkit-text-stroke:0.25px #6b7280;">12h</span></li><li class="activity-item" style="position:absolute;left:0px;top:320px;width:894px;height:64px;background:#f9fafb;border-radius:8px"><div class="activity-icon" style="position:absolute;left:16px;top:12px;width:40px;height:40px;background:#e0e7ff;border-radius:8px"><svg style="position:absolute;left:8px;top:8px" width="24" height="24" viewBox="0 0 24 24" role="img" aria-label="🤖"><defs><linearGradient id="rbg" x1="0" y1="0" x2="0" y2="1"><stop offset="0" stop-color="#d9f0f4"/><stop offset=".5" stop-color="#86bcc6"/><stop offset="1" stop-color="#1f6f7e"/></linearGradient></defs><rect x="0.300" y="10" width="2.600" height="6.500" rx="1" fill="#d8261f"/><rect x="21.100" y="10" width="2.600" height="6.500" rx="1" fill="#d8261f"/><path d="M9 5.400h6l-.8-2.200h-4.400z" fill="#6b4aa0"/><circle cx="12" cy="2.200" r="2.100" fill="#ffb813"/><circle cx="12" cy="1.700" r="1" fill="#ffe27a"/><rect x="2" y="4.800" width="20" height="18.600" rx="4.200" fill="url(#rbg)"/><circle cx="7.400" cy="11.300" r="3" fill="#fff" stroke="#1fb4ea" stroke-width="1.500"/><circle cx="16.600" cy="11.300" r="3" fill="#fff" stroke="#1fb4ea" stroke-width="1.500"/><path d="M12 11.800l2 3.800h-4z" fill="#e8463f"/><rect x="7.200" y="17.600" width="9.600" height="2.600" rx="1.200" fill="#d9dde0"/><g stroke="#6d7f86" stroke-width=".8"><line x1="9.600" y1="17.600" x2="9.600" y2="20.200"/><line x1="12" y1="17.600" x2="12" y2="20.200"/><line x1="14.400" y1="17.600" x2="14.400" y2="20.200"/></g></svg></div><span class="t " style="left:72.8px;top:21px;font-size:24px;color:#111827;transform:scaleX(1.0603);-webkit-text-stroke:0.25px #111827;">Analyzed 12 content prompts for SEO optimization</span><span class="t " style="left:855.7px;top:21px;font-size:21px;color:#6b7280;transform:scaleX(0.9410);-webkit-text-stroke:0.25px #6b7280;">1d</span></li></ul></section><section class="todos" style="position:absolute;left:1002px;top:748px;width:946px;height:500px;background:#fff;border:2px solid #e5e7eb;border-radius:8px;box-sizing:border-box;"><div class="todos-icon" style="position:absolute;left:24px;top:24px;width:44px;height:44px;background:#1f2937;border-radius:8px"><svg style="position:absolute;left:8px;top:8px" width="28" height="28" viewBox="0 0 28 28" ><defs><linearGradient id="sg" x1="0" y1="0.5" x2="1" y2="0.5"><stop offset="0" stop-color="#ffd21e"/><stop offset=".42" stop-color="#c9f06c"/><stop offset=".78" stop-color="#72def2"/><stop offset="1" stop-color="#4a9fb8"/></linearGradient></defs><path d="M15.950 6.700Q17.900 14.050 25.250 16Q17.900 17.950 15.950 25.300Q14 17.950 6.650 16Q14 14.050 15.950 6.700Z" fill="none" stroke="url(#sg)" stroke-width="2.3" stroke-linejoin="round"/><path d="M6.400 1.900Q7.350 5.300 10.750 6.250Q7.350 7.200 6.400 10.600Q5.450 7.200 2.050 6.250Q5.450 5.300 6.400 1.900Z" fill="#ffbe14" stroke="#ffbe14" stroke-width=".5" stroke-linejoin="round"/></svg></div><span class="t " style="left:85.3px;top:33px;font-size:28px;color:#18181b;transform:scaleX(0.9860);font-weight:700;-webkit-text-stroke:0.3px #18181b;">Todos</span><span class="t " style="left:853.6px;top:35px;font-size:21px;color:#6b7280;transform:scaleX(1.0072);-webkit-text-stroke:0.25px #6b7280;">1d ago</span><ul class="todo-list" style="position:absolute;left:24px;top:88px;width:894px;height:364px;margin:0;padding:0;list-style:none"><li class="todo-item" style="position:absolute;left:0px;top:0px;width:890px;height:60px;background:#f9fafb;border-left:4px solid #ef4444;border-radius:8px;"><svg style="position:absolute;left:20px;top:16px" width="28" height="28" viewBox="0 0 24 24" ><g fill="none" color="#991b1b" stroke="#991b1b" stroke-width="1.6" stroke-linecap="round" stroke-linejoin="round"><path d="M8.700 3h6.600c.3 0 .5.100.7.300l4.700 4.700c.2.200.300.400.300.700v6.600c0 .3-.100.500-.300.700l-4.700 4.700c-.2.200-.400.300-.700.300h-6.600c-.3 0-.5-.100-.7-.300l-4.700-4.700c-.2-.2-.300-.4-.300-.7v-6.600c0-.3.100-.5.300-.7l4.700-4.700c.2-.2.400-.3.700-.3z"/><path d="M12 8v4"/><path d="M12 16h.010"/></g></svg><span class="t " style="left:64.2px;top:19px;font-size:24px;color:#991b1b;transform:scaleX(1.1005);-webkit-text-stroke:0.4px #991b1b;">2 technical problems that have high priority</span></li><li class="todo-item" style="position:absolute;left:0px;top:76px;width:890px;height:60px;background:#f9fafb;border-left:4px solid #f59e0b;border-radius:8px;"><svg style="position:absolute;left:20px;top:16px" width="28" height="28" viewBox="0 0 24 24" ><g fill="none" color="#92400e" stroke="#92400e" stroke-width="1.6" stroke-linecap="round" stroke-linejoin="round"><circle cx="12" cy="12" r="9"/><path d="M13.200 6.800l-4.300 6h2.700l-.8 4.400 4.300-6h-2.700z" fill="currentColor" stroke-width="0.800"/></g></svg><span class="t " style="left:64.2px;top:19px;font-size:24px;color:#92400e;transform:scaleX(1.0922);-webkit-text-stroke:0.4px #92400e;">Fix 4 broken links to not get penalized</span></li><li class="todo-item" style="position:absolute;left:0px;top:152px;width:890px;height:60px;background:#f9fafb;border-left:4px solid #f97316;border-radius:8px;"><svg style="position:absolute;left:20px;top:16px" width="28" height="28" viewBox="0 0 24 24" ><g fill="none" color="#fff200" stroke="#fff200" stroke-width="1.6" stroke-linecap="round" stroke-linejoin="round"><path d="M2.800 18c2.300-1.900 2.900-4.800 2.900-9.200a6.300 6.300 0 0 1 12.600 0c0 4.400.6 7.300 2.900 9.200z"/><path d="M10 20.600a2.200 2.200 0 0 0 4 0"/></g></svg><span class="t " style="left:64.2px;top:19px;font-size:24px;color:#ea580c;transform:scaleX(1.1175);-webkit-text-stroke:0.4px #ea580c;">Fix color contrast for better accessibility.</span></li><li class="todo-item" style="position:absolute;left:0px;top:228px;width:890px;height:60px;background:#f9fafb;border-left:4px solid #10b981;border-radius:8px;"><svg style="position:absolute;left:20px;top:16px" width="28" height="28" viewBox="0 0 24 24" ><g fill="none" color="#6366f1" stroke="#6366f1" stroke-width="1.6" stroke-linecap="round" stroke-linejoin="round"><path d="M14.500 4.200a6.300 6.300 0 1 0 -6.300 10.600c.5.400.8 1.500.8 2.200h5c0-.7.300-1.800.8-2.200a6.300 6.300 0 0 0 2.900-4.100"/><path d="M9.300 20h4.400"/><path d="M9.800 11.200l1.700 1.800 1.700-1.800M11.500 13v4"/><path d="M18.300 2.500c.3 1.700.9 2.300 2.600 2.600-1.700.3-2.300.9-2.600 2.600-.3-1.700-.9-2.300-2.600-2.600 1.700-.3 2.300-.9 2.600-2.600z" fill="#6366f1" stroke-width="1"/></g></svg><span class="t " style="left:65.3px;top:19px;font-size:24px;color:#059669;transform:scaleX(1.0835);-webkit-text-stroke:0.4px #059669;">Your competitors are ranking for 10 new keywords</span></li><li class="todo-item" style="position:absolute;left:0px;top:304px;width:890px;height:60px;background:#f9fafb;border-left:4px solid #f59e0b;border-radius:8px;"><svg style="position:absolute;left:20px;top:16px" width="28" height="28" viewBox="0 0 24 24" ><g fill="none" color="#92400e" stroke="#92400e" stroke-width="1.6" stroke-linecap="round" stroke-linejoin="round"><circle cx="12" cy="12" r="9"/><path d="M13.200 6.800l-4.300 6h2.700l-.8 4.400 4.300-6h-2.700z" fill="currentColor" stroke-width="0.800"/></g></svg><span class="t " style="left:63.1px;top:19px;font-size:24px;color:#92400e;transform:scaleX(1.0795);-webkit-text-stroke:0.4px #92400e;">Improve Google Web Vitals scores for rank improvements</span></li></ul></section></main>
<script>(function(){var w=window.innerWidth;if(w>200&&w<2400){document.documentElement.style.zoom=w/2406;}})();</script>
</body></html>
